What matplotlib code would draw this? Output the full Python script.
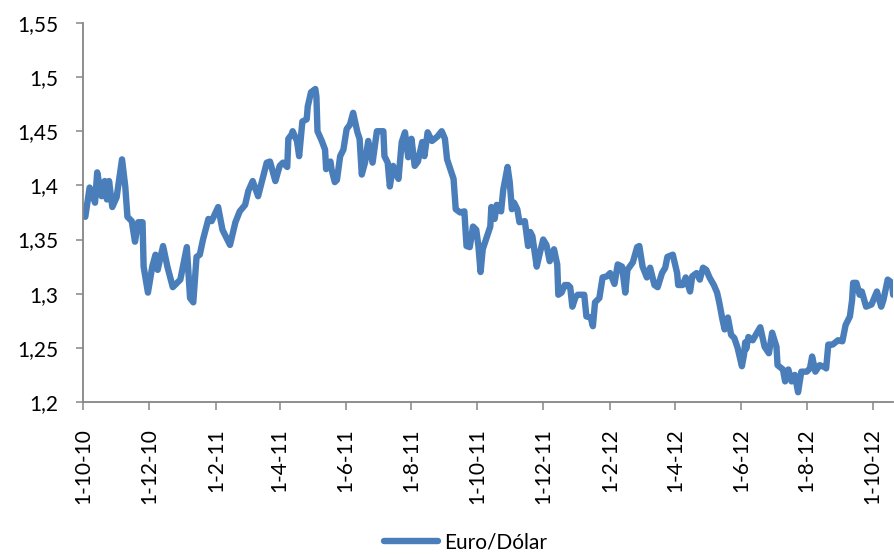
import numpy as np
import matplotlib
matplotlib.use("Agg")
import matplotlib.pyplot as plt
import matplotlib.dates as mdates
from matplotlib.ticker import MultipleLocator, FuncFormatter

# Serie Euro/Dólar (lettura dal grafico): giorni dal 1-10-2010 e valore
START = "2010-10-01"
days = [0, 2, 6, 11, 13, 17, 20, 22, 24, 27, 31, 36, 39, 41, 45, 48, 51, 55, 56, 60,
        64, 67, 69, 74, 78, 83, 90, 96, 99, 102, 105, 108, 111, 116, 119, 125, 129, 136, 141, 145,
        150, 153, 157, 162, 170, 173, 178, 182, 185, 189, 190, 193, 194, 198, 200, 203, 207, 208, 211, 215,
        216, 217, 221, 224, 225, 229, 230, 233, 235, 238, 241, 244, 247, 250, 254, 256, 258, 261, 264, 268,
        272, 278, 279, 282, 284, 287, 291, 292, 295, 298, 301, 304, 307, 310, 314, 316, 319, 323, 328, 332,
        335, 337, 340, 343, 345, 349, 353, 355, 358, 361, 364, 366, 368, 370, 374, 377, 378, 381, 383, 387,
        389, 393, 395, 397, 399, 402, 404, 409, 412, 414, 416, 420, 423, 426, 429, 432, 436, 439, 440, 443,
        446, 449, 451, 453, 456, 458, 464, 466, 470, 472, 474, 478, 481, 485, 488, 492, 495, 499, 502, 504,
        509, 513, 515, 518, 522, 525, 529, 532, 536, 539, 541, 546, 550, 551, 555, 558, 562, 564, 568, 571,
        574, 577, 580, 584, 587, 589, 592, 594, 597, 600, 603, 606, 610, 612, 613, 614, 616, 620, 624, 627,
        631, 635, 638, 642, 643, 648, 650, 653, 656, 659, 662, 665, 670, 673, 675, 678, 682, 687, 688, 690,
        694, 699, 703, 706, 710, 712, 713, 716, 719, 721, 725, 730, 735, 739, 741, 745, 749, 750]
euro_dolar = [1.372, 1.371, 1.398, 1.384, 1.412, 1.39, 1.404, 1.387, 1.404, 1.38, 1.389, 1.424, 1.399, 1.371, 1.367, 1.348, 1.366, 1.366, 1.325, 1.301,
              1.325, 1.336, 1.322, 1.344, 1.325, 1.306, 1.313, 1.343, 1.296, 1.292, 1.334, 1.336, 1.35, 1.369, 1.367, 1.38, 1.359, 1.345, 1.366, 1.376,
              1.382, 1.395, 1.404, 1.39, 1.421, 1.422, 1.404, 1.418, 1.421, 1.417, 1.443, 1.447, 1.45, 1.441, 1.427, 1.459, 1.461, 1.473, 1.486, 1.489,
              1.482, 1.45, 1.441, 1.433, 1.415, 1.422, 1.415, 1.403, 1.405, 1.427, 1.433, 1.452, 1.456, 1.467, 1.449, 1.443, 1.41, 1.421, 1.441, 1.421,
              1.45, 1.45, 1.427, 1.421, 1.399, 1.418, 1.408, 1.406, 1.44, 1.449, 1.426, 1.443, 1.418, 1.422, 1.44, 1.427, 1.449, 1.441, 1.445, 1.45,
              1.443, 1.424, 1.415, 1.406, 1.378, 1.375, 1.376, 1.344, 1.343, 1.362, 1.359, 1.344, 1.32, 1.341, 1.353, 1.362, 1.38, 1.369, 1.382, 1.376,
              1.396, 1.417, 1.403, 1.378, 1.384, 1.378, 1.366, 1.367, 1.344, 1.357, 1.353, 1.325, 1.338, 1.35, 1.345, 1.33, 1.341, 1.327, 1.299, 1.301,
              1.308, 1.308, 1.306, 1.288, 1.297, 1.299, 1.299, 1.279, 1.278, 1.27, 1.292, 1.296, 1.315, 1.316, 1.319, 1.309, 1.327, 1.325, 1.301, 1.322,
              1.329, 1.343, 1.344, 1.325, 1.315, 1.324, 1.308, 1.306, 1.319, 1.324, 1.334, 1.336, 1.319, 1.308, 1.308, 1.315, 1.302, 1.316, 1.319, 1.313,
              1.324, 1.322, 1.315, 1.308, 1.301, 1.292, 1.276, 1.267, 1.278, 1.262, 1.259, 1.25, 1.233, 1.244, 1.255, 1.249, 1.26, 1.257, 1.264, 1.269,
              1.251, 1.245, 1.264, 1.251, 1.234, 1.23, 1.219, 1.23, 1.219, 1.225, 1.209, 1.228, 1.228, 1.231, 1.242, 1.228, 1.234, 1.232, 1.231, 1.253,
              1.253, 1.257, 1.256, 1.271, 1.279, 1.294, 1.31, 1.31, 1.299, 1.302, 1.288, 1.29, 1.302, 1.288, 1.294, 1.313, 1.31, 1.299]

plt.rcParams['font.family'] = ['Lato', 'DejaVu Sans']

dates = np.datetime64(START) + np.array(days).astype('timedelta64[D]')

fig = plt.figure(figsize=(8.94, 5.55), dpi=100)
ax = fig.add_axes([0.093, 0.2757, 0.906, 0.683])

color_line = '#4a7ebb'
axis_grey = '#868686'

ax.plot(dates, euro_dolar, color=color_line, linewidth=4.6,
        solid_joinstyle='round', solid_capstyle='round', label='Euro/Dólar')

# Asse Y
ax.set_ylim(1.2, 1.55)
ax.yaxis.set_major_locator(MultipleLocator(0.05))
ax.yaxis.set_major_formatter(FuncFormatter(lambda v, p: f"{v:.2f}".rstrip('0').rstrip('.').replace('.', ',')))

# Asse X (date ogni 2 mesi)
ax.set_xlim(dates[0], dates[-1])
ax.xaxis.set_major_locator(mdates.MonthLocator(bymonth=[2, 4, 6, 8, 10, 12], bymonthday=1))
ax.xaxis.set_major_formatter(FuncFormatter(
    lambda v, p: (lambda d: f"{d.day}-{d.month}-{d.year % 100}")(mdates.num2date(v))))
plt.setp(ax.get_xticklabels(), rotation=90)

for side in ['top', 'right']:
    ax.spines[side].set_visible(False)
for side in ['left', 'bottom']:
    ax.spines[side].set_color(axis_grey)
    ax.spines[side].set_linewidth(1.3)

ax.tick_params(axis='y', length=5, width=1.1, color=axis_grey, pad=13, labelsize=15)
ax.tick_params(axis='x', length=6, width=1.1, color=axis_grey, pad=13, labelsize=15)

fig.legend(loc='center', bbox_to_anchor=(0.521, 0.022), frameon=False, fontsize=15,
           handlelength=2.6, handletextpad=0.3)

plt.savefig('out.png', dpi=100)
plt.close()
